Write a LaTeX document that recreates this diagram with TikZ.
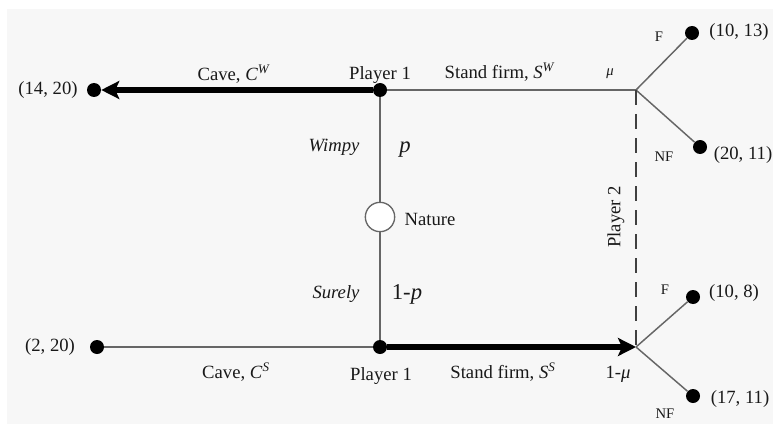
\documentclass[tikz,border=0pt]{standalone}
\usepackage{fontspec}
\setmainfont{Liberation Serif}
\usetikzlibrary{arrows.meta}

\tikzset{
  dot/.style={circle,fill=black,inner sep=0pt,minimum size=10.5pt},
  chance/.style={circle,draw=black!60,line width=1pt,fill=white,inner sep=0pt,minimum size=22pt},
  branch/.style={draw=black!60,line width=1.1pt},
  move/.style={draw=black,line width=3.8pt,-{Stealth[length=13.5pt,width=13.5pt,inset=3pt]}},
  lbl/.style={font=\fontsize{14}{16}\selectfont,inner sep=0pt,text=black!90},
  small lbl/.style={font=\fontsize{11}{13}\selectfont,inner sep=0pt,text=black!90},
  prob/.style={font=\fontsize{17}{19}\selectfont,inner sep=0pt,text=black!90}
}

\begin{document}
\begin{tikzpicture}[x=0.75pt,y=-0.75pt]
  \useasboundingbox (0,0) rectangle (773,424);
  \fill[black!3] (7,9) rectangle (773,424);

  % decision points and payoffs
  \node[dot] (P1W) at (380,90) {};
  \node[dot] (CW) at (94,90) {};
  \coordinate (J1) at (636,90);
  \node[dot] (F1) at (692,33) {};
  \node[dot] (NF1) at (700,147) {};
  \node[chance] (nat) at (380,217) {};
  \node[dot] (P1S) at (380,347) {};
  \node[dot] (CS) at (97,347) {};
  \coordinate (J2) at (636,347);
  \node[dot] (F2) at (693,297) {};
  \node[dot] (NF2) at (693,396) {};

  % branches
  \draw[branch] (P1W) -- (J1);
  \draw[branch] (P1W) -- (nat);
  \draw[branch] (nat) -- (P1S);
  \draw[branch] (CS) -- (P1S);
  \draw[branch] (J1) -- (F1);
  \draw[branch] (J1) -- (NF1);
  \draw[branch] (J2) -- (F2);
  \draw[branch] (J2) -- (NF2);
  \draw[branch,draw=black!75,dash pattern=on 11pt off 7pt] (J1) -- (J2);
  \draw[move] (P1W) -- (CW);
  \draw[move] (P1S) -- (J2);

  % labels
  \node[lbl] at (48,90) {(14, 20)};
  \node[lbl] at (234,74) {Cave, \textit{C}\textsuperscript{\textit{W}}};
  \node[lbl] at (380,75) {Player 1};
  \node[lbl] at (500,72) {Stand firm, \textit{S}\textsuperscript{\textit{W}}};
  \node[small lbl] at (610,74) {\textit{μ}};
  \node[small lbl] at (659,37) {F};
  \node[lbl] at (739,32) {(10, 13)};
  \node[small lbl] at (664,157) {NF};
  \node[lbl] at (743,155) {(20, 11)};
  \node[lbl] at (334,147) {\textit{Wimpy}};
  \node[prob] at (405,150) {\textit{p}};
  \node[lbl] at (430,219) {Nature};
  \node[lbl] at (336,294) {\textit{Surely}};
  \node[prob] at (407,294) {1-\textit{p}};
  \node[lbl] at (50,347) {(2, 20)};
  \node[lbl] at (236,372) {Cave, \textit{C}\textsuperscript{\textit{S}}};
  \node[lbl] at (381,376) {Player 1};
  \node[lbl] at (503,372) {Stand firm, \textit{S}\textsuperscript{\textit{S}}};
  \node[lbl] at (618,374) {1-\textit{μ}};
  \node[small lbl] at (665,290) {F};
  \node[lbl] at (734,293) {(10, 8)};
  \node[small lbl] at (665,414) {NF};
  \node[lbl] at (740,399) {(17, 11)};
  \node[lbl,rotate=90] at (616,217) {Player 2};
\end{tikzpicture}
\end{document}
